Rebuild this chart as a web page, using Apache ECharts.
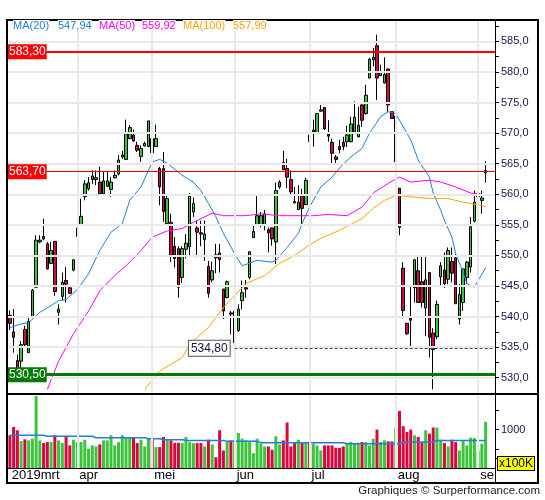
<!DOCTYPE html>
<html><head><meta charset="utf-8">
<script src="https://cdn.jsdelivr.net/npm/echarts@6.0.0/dist/echarts.min.js"></script>
<style>html,body{margin:0;padding:0;background:#fff}#c{width:545px;height:500px}</style>
</head><body><div id="c"></div>
<script>
// ---------- categories (Euronext trading days) ----------
const firstDay = '2019-03-06';
const dayCount = 130;
const holidays = ['2019-04-19', '2019-04-22', '2019-05-01'];
const monthTickLabels = ['2019mrt', 'apr', 'mei', 'jun', 'jul', 'aug', 'se'];

// ---------- price data ----------
const open = [540.2,537.5,532.8,532.7,537.9,534.1,540.0,544.8,552.2,553.1,551.9,548.7,552.3,540.7,543.3,545.9,544.7,547.6,553.1,555.0,
559.6,560.9,562.4,562.4,562.0,560.1,561.3,560.8,562.7,563.3,566.1,565.7,569.1,569.7,568.0,566.2,567.9,567.8,569.1,567.8,
564.2,564.2,555.2,555.4,551.5,551.1,546.4,551.0,551.4,557.1,554.5,553.7,552.6,548.2,546.0,550.1,550.4,544.5,543.1,540.6,
535.7,537.7,542.6,544.5,546.4,552.9,554.9,554.9,554.9,554.2,554.5,552.2,561.2,565.2,564.2,562.4,558.8,557.5,559.8,558.3,
569.7,570.2,570.1,573.6,574.2,569.8,568.5,566.1,567.8,568.5,568.6,568.6,570.2,569.4,574.6,573.2,579.0,582.0,584.3,579.4,
578.2,580.5,573.5,565.3,561.0,547.9,538.9,539.7,544.7,547.5,545.7,541.4,547.2,537.3,536.7,546.5,547.6,546.1,549.0,549.6,
539.6,542.3,546.4,548.1,555.6,559.6,559.0,563.5];
const close = [538.9,536.6,531.4,535.4,535.4,539.2,544.3,552.5,552.5,552.7,547.8,550.8,544.1,541.2,545.6,545.3,543.8,549.3,554.5,556.4,
561.7,561.9,563.0,562.7,560.1,562.2,562.2,562.0,563.1,565.6,566.4,569.9,570.9,568.7,567.2,567.5,568.3,572.0,566.8,569.1,
561.2,557.2,559.3,550.0,549.5,544.8,551.1,552.0,559.7,558.5,553.8,553.5,553.5,543.8,547.5,549.6,549.3,540.9,545.7,540.4,
540.9,541.2,543.9,544.7,550.6,553.9,556.5,556.5,556.8,553.7,552.7,560.6,562.0,564.0,562.8,560.4,558.6,558.7,557.7,562.3,
568.6,570.5,573.2,573.8,570.7,569.5,566.7,565.7,567.3,567.8,569.7,571.5,572.6,571.3,572.1,576.2,582.1,582.4,579.0,580.1,
579.6,574.6,572.4,572.8,554.6,541.0,537.2,539.4,549.3,542.3,542.3,546.0,536.6,534.6,542.0,548.3,545.4,550.8,547.1,542.1,
543.6,547.8,548.9,554.7,558.7,560.1,559.4,563.9];
const low = [537.8,534.1,530.8,531.4,534.9,534.1,540.0,544.7,552.0,552.5,547.7,548.6,543.4,538.7,542.6,542.3,543.7,547.4,552.3,554.9,
559.0,560.6,561.7,561.5,559.8,559.8,561.2,559.6,562.6,563.1,565.8,565.6,569.0,568.6,566.9,565.3,567.8,567.7,566.6,567.8,
558.2,555.5,554.9,548.9,548.0,543.1,545.5,549.5,550.0,556.3,549.7,551.5,549.1,543.1,545.6,547.1,547.2,539.6,543.0,537.1,
534.8,537.5,541.2,543.1,546.1,552.9,554.9,554.6,554.1,550.5,551.6,548.6,560.9,564.0,561.0,560.0,558.5,557.5,554.9,558.3,
568.4,567.8,570.0,573.5,570.5,568.6,565.0,565.1,566.7,567.2,567.7,568.5,570.2,569.3,571.0,573.0,579.0,580.9,575.4,579.3,
578.1,573.5,572.3,565.3,553.3,539.7,537.0,534.8,542.3,542.3,541.5,536.8,533.3,528.1,536.3,544.9,544.7,545.3,545.6,542.1,
538.7,540.9,545.3,547.2,555.4,559.2,556.8,561.9];
const high = [541.0,541.2,533.8,536.0,538.5,539.8,544.5,553.3,553.3,556.0,552.2,552.2,552.3,542.0,547.2,548.1,545.0,549.3,555.2,559.3,
562.3,562.8,563.9,563.9,564.5,563.7,563.7,562.8,563.9,566.4,567.1,572.2,571.3,570.6,568.6,568.0,568.6,572.0,570.5,571.4,
564.5,566.9,560.0,556.8,553.0,551.5,551.5,553.5,560.2,559.5,555.7,555.7,555.7,549.1,549.0,551.9,551.9,544.5,545.9,540.9,
540.9,542.0,545.9,546.0,550.6,554.9,559.8,557.1,557.4,554.6,554.5,561.9,562.3,567.1,565.8,563.9,561.2,561.5,560.9,562.7,
571.5,572.2,573.2,574.6,574.2,572.1,569.1,566.4,568.9,569.4,571.2,572.7,575.2,574.3,575.0,577.9,582.3,583.9,586.1,581.2,
582.4,580.5,573.5,572.8,561.0,548.9,538.9,545.0,549.3,550.0,549.9,550.0,547.2,538.1,542.6,548.9,550.5,551.3,551.3,550.2,
545.3,547.8,549.1,556.3,560.6,562.6,560.6,565.4];

// volume in units of 100K
const volume = [851,1070,982,702,746,719,763,1877,719,649,675,675,851,719,649,807,588,737,675,675,
737,500,588,561,614,719,719,851,588,675,851,789,789,781,649,737,561,763,763,544,
544,807,737,719,658,658,649,807,675,649,649,649,561,737,614,281,982,456,702,719,
719,912,763,719,675,386,763,632,561,561,474,825,614,719,1184,561,649,737,649,675,
649,632,588,456,588,588,588,526,526,561,632,675,632,658,675,675,588,763,1000,675,
719,693,693,1053,1482,1088,939,1000,851,807,675,982,895,1053,1053,737,649,561,737,675,
456,702,588,789,781,456,632,1202];
// volume average: constant runs (start bar, value)
const volMaStart = [0,10,23,37,41,47,58,67,90,105,114];
const volMaValue = [851,825,789,763,737,719,693,658,632,675,719];
const volTickValues = [250, 500, 1000, 1500];

// moving averages: (index, value) points
const ma20Idx = [0,3,5,8,11,13,15,18,21,24,27,30,32,35,38,40,42,46,49,51,53,55,57,60,62,66,70,71,74,77,78,80,83,86,88,91,94,96,99,101,103,104,107,109,112,113,115,116,118,119,121,122,124,125,127];
const ma20Val = [538.2,538.8,539.0,540.7,541.8,542.6,542.8,544.4,547.0,550.8,553.8,555.2,559.0,561.2,565.3,565.7,565.1,563.1,562.0,560.6,558.5,556.3,553.6,550.3,548.3,549.2,548.9,549.2,551.3,553.6,555.2,557.9,561.2,562.8,564.3,566.1,567.5,570.0,572.7,573.5,573.2,572.1,568.9,565.6,562.8,560.2,557.4,555.7,553.0,550.3,547.2,545.4,544.8,545.9,547.94];
const ma50Idx = [10,13,17,21,24,28,31,35,38,42,46,49,54,57,63,67,72,81,85,90,94,97,101,104,107,112,115,119,123,127];
const ma50Val = [528.1,532.7,537.2,540.9,544.2,546.7,548.3,550.8,553.0,554.0,554.4,555.4,556.9,556.5,556.5,556.8,556.5,556.5,556.7,556.5,557.9,560.2,561.8,562.8,562.0,562.3,562.0,561.2,560.2,559.92];
const ma100Idx = [36,40,46,48,53,57,60,63,68,72,76,79,83,88,92,94,97,100,103,105,112,117,121,123,127];
const ma100Val = [528.1,531.1,533.3,535.5,538.2,541.5,543.4,545.4,546.7,548.7,550.0,551.3,552.8,554.1,555.4,556.0,557.7,559.0,559.8,559.7,559.3,559.3,558.7,558.5,557.99];
const maNames = ['MA(20)', 'MA(50)', 'MA(100)'];
const maLast = [547.94, 559.92, 557.99];

// horizontal levels
const levelValues = [583.30, 563.70, 530.50];
const supportValue = 534.80;
const supportStartIndex = 60;

// ---------- build ----------
function tradingDays() {
  const out = [];
  const d = new Date(firstDay + 'T12:00:00Z');
  while (out.length < dayCount) {
    const iso = d.toISOString().slice(0, 10);
    const wd = d.getUTCDay();
    if (wd !== 0 && wd !== 6 && holidays.indexOf(iso) < 0) out.push(iso);
    d.setUTCDate(d.getUTCDate() + 1);
  }
  return out;
}
const dates = tradingDays();
const monthStarts = [];
dates.forEach((d, i) => { if (i === 0 || d.slice(5, 7) !== dates[i - 1].slice(5, 7)) monthStarts.push(i); });

const fmt = (v, n) => v.toFixed(n).replace('.', ',');
const sparse = (idx, val) => { const a = dates.map(() => null); idx.forEach((k, j) => { a[k] = val[j]; }); return a; };
const candleData = open.map((o, i) => [o, close[i], low[i], high[i]]);
const volMa = volume.map((v, i) => { let k = 0; for (let j = 0; j < volMaStart.length; j++) if (i >= volMaStart[j]) k = j; return volMaValue[k]; });
const emptyData = dates.map(() => null);

const GREEN = '#3cc43c', RED = '#d8083e';
const FONT = 'Liberation Sans, Arial, sans-serif';
const AXIS_TXT = '#14144a';
const maColors = ['#1f7fd8', '#ff00ff', '#ffa500'];
const gridColor = '#e9e9e9';

const chart = echarts.init(document.getElementById('c'), null, { renderer: 'canvas' });

const levelColors = ['#ff0000', '#ff0000', '#007a00'];
const levelWidths = [2, 1, 3];
const levelSeries = levelValues.map((v, i) => ({
  name: 'level' + i, type: 'line', xAxisIndex: 0, yAxisIndex: 0, data: emptyData, z: 5, silent: true,
  color: levelColors[i], showSymbol: false,
  markLine: {
    silent: true, symbol: ['none', 'none'], animation: false,
    lineStyle: { color: levelColors[i], width: levelWidths[i], type: 'solid', opacity: 1 },
    label: { show: true, position: 'start', align: 'left', distance: 0,
      formatter: fmt(v, 2), color: '#fff', backgroundColor: levelColors[i],
      fontSize: 12, fontFamily: FONT, padding: [2, 1, 1, 1], lineHeight: 12 },
    data: [{ yAxis: v }]
  }
}));
const supportSeries = {
  name: 'support', type: 'line', xAxisIndex: 0, yAxisIndex: 0, data: emptyData, z: 5, silent: true,
  color: '#444', showSymbol: false,
  markLine: {
    silent: true, symbol: ['none', 'none'], animation: false,
    lineStyle: { color: '#444', width: 1, type: [3, 2] },
    label: { show: true, position: 'start', distance: 5, formatter: fmt(supportValue, 2),
      color: AXIS_TXT, backgroundColor: '#fff', borderColor: '#555', borderWidth: 1,
      fontSize: 12, fontFamily: FONT, padding: [2, 2, 1, 2], lineHeight: 12 },
    data: [[{ coord: [dates[supportStartIndex], supportValue] }, { coord: [dates[dates.length - 1], supportValue] }]]
  }
};

const hGrid = [];
for (let v = 530; v <= 585; v += 5) hGrid.push({ yAxis: v });
const vGrid = monthStarts.filter(i => i > 0).map(i => ({ xAxis: dates[i] }));

const legendX = [0, 45, 86, 129, 170, 220];
const legendTexts = [];
maNames.forEach((n, i) => {
  legendTexts.push({ type: 'text', x: legendX[2 * i], y: 0, z: 200,
    style: { text: n, fill: maColors[i], font: '11px ' + FONT, backgroundColor: '#fff' } });
  legendTexts.push({ type: 'text', x: legendX[2 * i + 1], y: 0, z: 200,
    style: { text: fmt(maLast[i], 2), fill: maColors[i], font: '11px ' + FONT, backgroundColor: '#fff' } });
});

const option = {
  animation: false,
  backgroundColor: '#fff',
  grid: [
    { left: 8, right: 50, top: 20, height: 373 },
    { left: 8, right: 50, top: 395, height: 73 }
  ],
  xAxis: [
    { type: 'category', gridIndex: 0, data: dates, boundaryGap: true,
      axisLine: { show: false }, axisTick: { show: false }, axisLabel: { show: false }, splitLine: { show: false } },
    { type: 'category', gridIndex: 1, data: dates, boundaryGap: true,
      axisLine: { show: true, lineStyle: { color: '#000', width: 1 } }, axisTick: { show: false },
      splitLine: { show: false },
      axisLabel: { show: true, interval: (i) => monthStarts.indexOf(i) >= 0,
        formatter: (val, i) => monthTickLabels[monthStarts.indexOf(i)] || '',
        align: 'left', margin: 1, color: '#000', fontSize: 13, fontFamily: FONT, padding: [0, 0, 0, 2] } }
  ],
  yAxis: [
    { type: 'value', gridIndex: 0, position: 'right', min: 527.5, max: 588.5, interval: 2.5, scale: true,
      axisLine: { show: true, lineStyle: { color: '#000', width: 1 } },
      axisTick: { show: true, length: 4, lineStyle: { color: '#000' } },
      splitLine: { show: false },
      axisLabel: { show: true, margin: 6, color: AXIS_TXT, fontSize: 11, fontFamily: FONT,
        formatter: (v) => (Math.abs(v % 5) < 1e-6 ? fmt(v, 1) : '') } },
    { type: 'value', gridIndex: 1, position: 'right', min: 0, max: 1900, interval: 250,
      axisLine: { show: true, lineStyle: { color: '#000', width: 1 } },
      axisTick: { show: true, length: 4, lineStyle: { color: '#000' }, customValues: volTickValues },
      splitLine: { show: false },
      axisLabel: { show: true, margin: 6, color: AXIS_TXT, fontSize: 11, fontFamily: FONT, customValues: [1000],
        formatter: (v) => (v === 1000 ? '1000' : '') } }
  ],
  series: [
    { name: 'gridMain', type: 'line', xAxisIndex: 0, yAxisIndex: 0, data: emptyData, z: 1, silent: true,
      showSymbol: false, color: gridColor,
      markLine: { silent: true, symbol: ['none', 'none'], label: { show: false },
        lineStyle: { color: gridColor, width: 2, type: 'solid' }, data: hGrid.concat(vGrid) } },
    { name: 'gridVol', type: 'line', xAxisIndex: 1, yAxisIndex: 1, data: emptyData, z: 1, silent: true,
      showSymbol: false, color: gridColor,
      markLine: { silent: true, symbol: ['none', 'none'], label: { show: false },
        lineStyle: { color: gridColor, width: 2, type: 'solid' }, data: vGrid.map(o => ({ xAxis: o.xAxis })) } },
    { name: 'price', type: 'candlestick', xAxisIndex: 0, yAxisIndex: 0, data: candleData, z: 3,
      barWidth: 3,
      itemStyle: { color: GREEN, color0: RED, borderColor: '#000', borderColor0: '#000', borderWidth: 1 } },
    { name: maNames[0], type: 'line', xAxisIndex: 0, yAxisIndex: 0, data: sparse(ma20Idx, ma20Val), connectNulls: true,
      showSymbol: false, z: 4, lineStyle: { color: maColors[0], width: 1 } },
    { name: maNames[1], type: 'line', xAxisIndex: 0, yAxisIndex: 0, data: sparse(ma50Idx, ma50Val), connectNulls: true,
      showSymbol: false, z: 4, lineStyle: { color: maColors[1], width: 1 } },
    { name: maNames[2], type: 'line', xAxisIndex: 0, yAxisIndex: 0, data: sparse(ma100Idx, ma100Val), connectNulls: true,
      showSymbol: false, z: 4, lineStyle: { color: maColors[2], width: 1 } },
    { name: 'volume', type: 'bar', xAxisIndex: 1, yAxisIndex: 1, z: 3, barWidth: 3,
      data: volume.map((v, i) => ({ value: v, itemStyle: { color: close[i] >= open[i] ? GREEN : RED } })) },
    { name: 'volMA', type: 'line', xAxisIndex: 1, yAxisIndex: 1, data: volMa, step: 'middle', z: 4,
      showSymbol: false, lineStyle: { color: '#1f7fd8', width: 1.5 } }
  ].concat(levelSeries, [supportSeries]),
  graphic: [
    { type: 'rect', shape: { x: 7, y: 20, width: 531, height: 463 }, style: { fill: 'none', stroke: '#000', lineWidth: 2 }, z: 100 },
    { type: 'line', shape: { x1: 7, y1: 394, x2: 538, y2: 394 }, style: { stroke: '#000', lineWidth: 2 }, z: 100 },
    { type: 'line', shape: { x1: 495.5, y1: 468, x2: 495.5, y2: 483 }, style: { stroke: '#000', lineWidth: 1 }, z: 100 },
    { type: 'group', left: 13, top: 20, z: 200, children: legendTexts },
    { type: 'text', x: 498, y: 457, z: 100, style: { text: 'x100K', fill: '#000', font: '12px ' + FONT,
      backgroundColor: '#ffff00', borderColor: '#000', borderWidth: 1, padding: [1, 1, 0, 1] } },
    { type: 'text', right: 5, top: 485, z: 100, style: { text: 'Graphiques © Surperformance.com', fill: '#222', font: '11.5px ' + FONT } }
  ]
};
chart.setOption(option);
</script></body></html>
